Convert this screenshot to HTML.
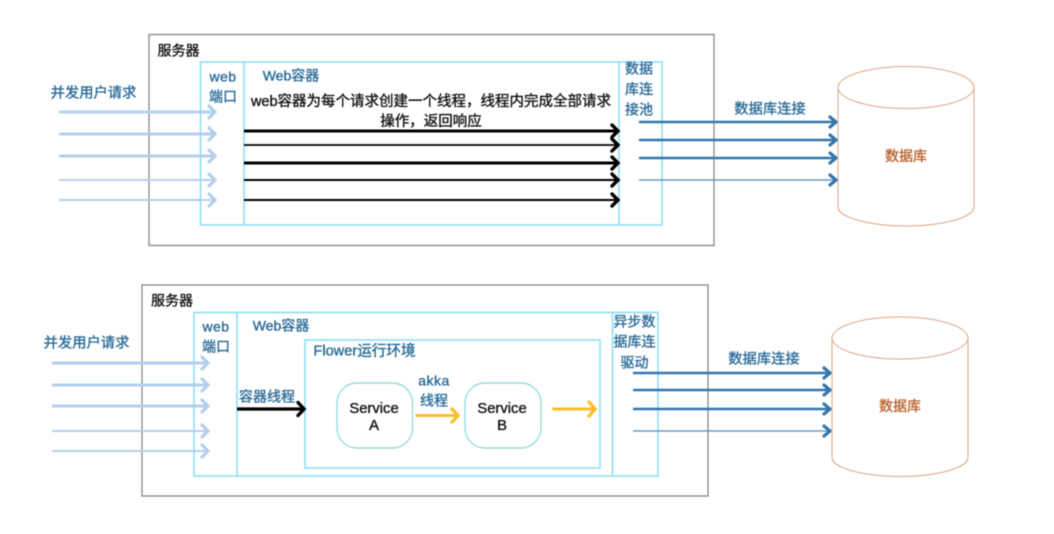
<!DOCTYPE html>
<html><head><meta charset="utf-8">
<style>
html,body{margin:0;padding:0;background:#fff;width:1054px;height:534px;overflow:hidden}
svg{display:block;filter:blur(.4px)}
text{font-family:"Liberation Sans","Noto Sans CJK SC",sans-serif;font-size:14px;text-anchor:middle;stroke-width:.35px}
.b{fill:#2a6a96;stroke:#2a6a96}.k{fill:#111;stroke:#111}.o{fill:#b9622c;stroke:#b9622c}
.box{fill:none;stroke:#7e7e7e;stroke-width:1.2}
.c{fill:none;stroke:#8fdcf5;stroke-width:1.6}
.cyl{fill:none;stroke:#dba685;stroke-width:1}
.svc{fill:none;stroke:#9bdcd6;stroke-width:1.4}
</style></head><body>
<svg width="1054" height="534" viewBox="0 0 1054 534" xmlns="http://www.w3.org/2000/svg">
<defs>
<g id="blueIn" fill="none" stroke="#b3cfed" stroke-linecap="round">
 <path d="M59 0H214" stroke-width="3" stroke-linecap="butt"/><path d="M209-6l6 6-6 6" stroke-width="3.200"/>
</g>
<g id="blueInT" fill="none" stroke="#b3cfed" stroke-linecap="round">
 <path d="M59 0H214" stroke-width="2" stroke-linecap="butt"/><path d="M209-6l6 6-6 6" stroke-width="3.200"/>
</g>
<g id="dbA" fill="none" stroke="#3477ab" stroke-linecap="round">
 <path d="M639 0H834" stroke-width="2.400" stroke-linecap="butt"/><path d="M830-5l6 5-6 5" stroke-width="3.200"/>
</g>
<g id="dbT" fill="none" stroke="#6a9cc4" stroke-linecap="round">
 <path d="M639 0H834" stroke-width="1.500" stroke-linecap="butt"/><path d="M830-5l6 5-6 5" stroke="#3477ab" stroke-width="3.200"/>
</g>
<g id="cyl">
 <path class="cyl" d="M838 88V207C838 217 868 226 906 226S974 217 974 207V88"/>
 <ellipse class="cyl" cx="906" cy="87.500" rx="68" ry="21"/>
</g>
</defs>

<!-- TOP -->
<rect class="box" x="149" y="34.500" width="565" height="211"/>
<rect class="c" x="200.500" y="62" width="461.500" height="163"/>
<path class="c" d="M244 62V225M619 62V225"/>

<text class="k" x="178.500" y="55.500">服务器</text>
<text class="b" x="223" y="81.500" style="letter-spacing:.4px">web</text>
<text class="b" x="223" y="101.500">端口</text>
<text class="b" x="291" y="80.500">Web容器</text>
<text class="k" x="431" y="106" style="font-size:14.500px">web容器为每个请求创建一个线程，线程内完成全部请求</text>
<text class="k" x="431" y="126" style="font-size:14.500px">操作，返回响应</text>
<text class="b" x="639" y="73.500">数据</text>
<text class="b" x="639" y="94">库连</text>
<text class="b" x="639" y="114.500">接池</text>
<text class="b" x="93.500" y="97.500" style="font-size:14.300px">并发用户请求</text>
<text class="b" x="770" y="113.500" style="font-size:14.300px">数据库连接</text>
<text class="o" x="906" y="161">数据库</text>

<use href="#blueIn" y="112"/><use href="#blueIn" y="134"/><use href="#blueIn" y="156"/>
<use href="#blueInT" y="180"/><use href="#blueInT" y="200"/>

<g fill="none" stroke="#000" stroke-linecap="butt">
 <path d="M244 131H616" stroke-width="3"/><path d="M244 145H616" stroke-width="1.800"/>
 <path d="M244 163H616" stroke-width="3"/><path d="M244 180H616" stroke-width="2"/>
 <path d="M244 200H616" stroke-width="2"/>
 <g stroke-width="3.400" stroke-linecap="round">
  <path d="M612 125l6 6-6 6M612 139l6 6-6 6M612 157l6 6-6 6M612 174l6 6-6 6M612 194l6 6-6 6"/>
 </g>
</g>

<use href="#dbA" y="122"/><use href="#dbA" y="140"/><use href="#dbA" y="158"/><use href="#dbT" y="180"/>
<use href="#cyl"/>

<!-- BOTTOM -->
<rect class="box" x="142" y="285" width="566" height="211"/>
<rect class="c" x="194" y="312.500" width="464" height="163.500"/>
<path class="c" d="M237 312.500V476M612.500 312.500V476"/>
<rect class="c" x="305" y="340" width="295" height="128"/>
<rect class="svc" x="337" y="383" width="75.500" height="65" rx="20"/>
<rect class="svc" x="465" y="383" width="76" height="65" rx="20"/>

<text class="k" x="172" y="305.500">服务器</text>
<text class="b" x="216" y="331.500" style="letter-spacing:.4px">web</text>
<text class="b" x="216" y="351.500">端口</text>
<text class="b" x="281" y="330.500">Web容器</text>
<text class="b" x="364.500" y="355.500" style="font-size:14.600px">Flower运行环境</text>
<text class="b" x="267" y="401.500">容器线程</text>
<text class="b" x="434" y="385.500" style="letter-spacing:.5px">akka</text>
<text class="b" x="434" y="405.500">线程</text>
<text class="k" x="374" y="413" style="font-size:14.800px">Service</text>
<text class="k" x="374" y="430" style="font-size:14.800px">A</text>
<text class="k" x="502" y="413" style="font-size:14.800px">Service</text>
<text class="k" x="502" y="430" style="font-size:14.800px">B</text>
<text class="b" x="634.500" y="326.500">异步数</text>
<text class="b" x="634.500" y="346.500">据库连</text>
<text class="b" x="634.500" y="367.500">驱动</text>
<text class="b" x="86.500" y="347.500" style="font-size:14.300px">并发用户请求</text>
<text class="b" x="764" y="363.500" style="font-size:14.300px">数据库连接</text>
<text class="o" x="900" y="411">数据库</text>

<g transform="translate(-7 0)">
<use href="#blueIn" y="363"/><use href="#blueIn" y="385"/><use href="#blueIn" y="406"/>
<use href="#blueInT" y="431"/><use href="#blueInT" y="451"/>
</g>

<g fill="none" stroke="#000" stroke-linecap="round">
 <path d="M237 409H302" stroke-width="3.200" stroke-linecap="butt"/><path d="M298 402.500l6 6.500-6 6.500" stroke-width="3.400"/>
</g>
<g fill="none" stroke="#fdbd2c" stroke-linecap="round">
 <path d="M415.500 415.500H457" stroke-width="3" stroke-linecap="butt"/><path d="M452 409l6 6.500-6 6.500" stroke-width="3.400"/>
 <path d="M552.500 409H594" stroke-width="3" stroke-linecap="butt"/><path d="M589 402l6 7-6 7" stroke-width="3.400"/>
</g>

<g transform="translate(-6 0)">
<use href="#dbA" y="373"/><use href="#dbA" y="390"/><use href="#dbA" y="409"/><use href="#dbT" y="431"/>
</g>
<use href="#cyl" transform="translate(-6 250.500)"/>
</svg>
</body></html>
